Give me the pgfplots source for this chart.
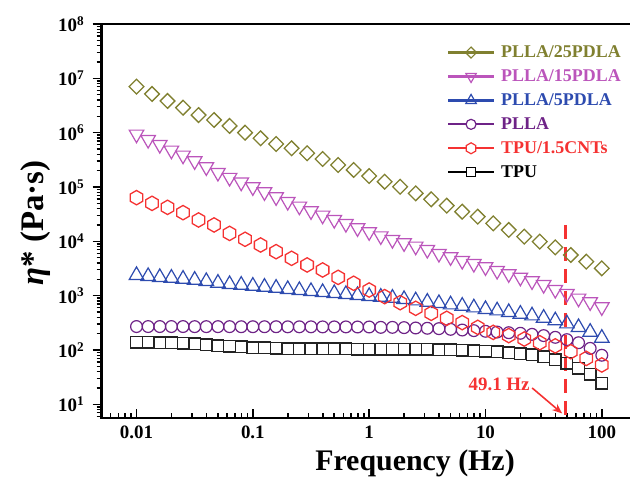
\documentclass[border=0pt]{standalone}
\usepackage{fontspec}
\setmainfont{Liberation Serif}
\usepackage{pgfplots}
\pgfplotsset{compat=1.18}
\usepackage{pgfplotstable}
\usetikzlibrary{arrows.meta}

\definecolor{olivec}{RGB}{128,128,48}
\definecolor{magc}{RGB}{187,85,187}
\definecolor{bluec}{RGB}{45,75,175}
\definecolor{purc}{RGB}{110,35,135}
\definecolor{redc}{RGB}{245,50,50}
\definecolor{blkc}{RGB}{35,35,35}

% hexagon outline with vertices at top and bottom
\def\hexpath{%
  \pgfpathmoveto{\pgfqpoint{0pt}{\pgfplotmarksize}}%
  \pgfpathlineto{\pgfqpoint{0.866\pgfplotmarksize}{0.5\pgfplotmarksize}}%
  \pgfpathlineto{\pgfqpoint{0.866\pgfplotmarksize}{-0.5\pgfplotmarksize}}%
  \pgfpathlineto{\pgfqpoint{0pt}{-\pgfplotmarksize}}%
  \pgfpathlineto{\pgfqpoint{-0.866\pgfplotmarksize}{-0.5\pgfplotmarksize}}%
  \pgfpathlineto{\pgfqpoint{-0.866\pgfplotmarksize}{0.5\pgfplotmarksize}}%
  \pgfpathclose}
\pgfdeclareplotmark{hexagon}{\hexpath\pgfusepathqstroke}
\pgfdeclareplotmark{hexagon*}{\hexpath\pgfusepathqfillstroke}

% 10 points per decade
\pgfplotstableread{
f        p15     p5    plla  tpu
0.01     9.32e5  2370  270   140
0.012589 7.43e5  2270  270   138
0.015849 6.01e5  2175  270   136
0.019953 4.73e5  2115  270   135
0.025119 3.83e5  2027  270   133
0.031623 3.01e5  1942  269   129
0.039811 2.33e5  1836  269   125
0.050119 1.84e5  1711  269   120
0.063096 1.49e5  1617  269   117
0.079433 1.22e5  1572  268   114
0.1      1.0e5   1507  268   110
0.12589  8.09e4  1444  268   109
0.15849  6.55e4  1384  268   107
0.19953  5.37e4  1308  267   106
0.25119  4.41e4  1254  267   106
0.31623  3.62e4  1202  267   106
0.39811  3.01e4  1152  266   106
0.50119  2.50e4  1104  266   106
0.63096  2.11e4  1058  266   106
0.79433  1.76e4  1014  265   104
1        1.49e4  972   265   104
1.2589   1.25e4  945   261   104
1.5849   1.07e4  906   261   104
1.9953   9.32e3  856   258   104
2.5119   8.09e3  809   254   104
3.1623   7.03e3  765   251   103
3.9811   5.93e3  722   247   101
5.0119   5.15e3  683   240   100
6.3096   4.41e3  645   233   98.6
7.9433   3.88e3  601   227   97.2
10       3.37e3  560   221   94.5
12.589   2.89e3  529   214   91.9
15.849   2.51e3  493   208   89.3
19.953   2.17e3  460   203   85.5
25.119   1.86e3  428   194   80.9
31.623   1.59e3  388   184   74.3
39.811   1.29e3  347   171   66.4
50.119   1.09e3  305   155   56.8
63.096   893     261   136   45.9
79.433   764     214   107   35.6
100      618     166   80    24.3
}\dataA

% 7.5 points per decade
\pgfplotstableread{
f        p25     cnt
0.01     7.03e6  6.36e4
0.013594 5.15e6  5.00e4
0.018478 3.83e6  4.22e4
0.025119 2.88e6  3.37e4
0.034145 2.11e6  2.47e4
0.046416 1.71e6  2.00e4
0.063096 1.33e6  1.40e4
0.085770 1.0e6   1.09e4
0.11659  7.87e5  8.56e3
0.15849  6.18e5  6.45e3
0.21544  5.15e5  4.87e3
0.29286  4.17e5  3.67e3
0.39811  3.28e5  2.97e3
0.54117  2.54e5  2.17e3
0.73564  2.06e5  1.69e3
1        1.59e5  1.27e3
1.3594   1.25e5  959
1.8478   1.01e5  743
2.5119   7.64e4  585
3.4145   5.93e4  473
4.6416   4.53e4  383
6.3096   3.51e4  319
8.5770   2.84e4  261
11.659   2.14e4  211
15.849   1.62e4  184
21.544   1.22e4  159
29.286   9.86e3  136
39.811   7.75e3  119
54.117   5.60e3  93
73.564   4.22e3  70
100      3.18e3  53
}\dataB

\begin{document}
\begin{tikzpicture}
\begin{axis}[
  at={(0,0)}, anchor=south west,
  width=538.3bp, height=394bp, scale only axis,
  xmode=log, ymode=log, log basis x=10, log basis y=10,
  xmin=0.00502, xmax=213, ymin=5.6, ymax=1e8,
  axis line style={line width=2.4bp},
  tick pos=left,
  xtick align=inside, ytick align=outside,
  major tick length=9bp, minor tick length=5bp,
  tick style={line width=1.5bp, black},
  /pgf/number format/assume math mode=true,
  xticklabel={\pgfmathparse{10^(round(\tick))}\pgfmathprintnumber[fixed,precision=2]{\pgfmathresult}},
  yticklabel={10\textsuperscript{\pgfmathparse{int(round(\tick))}\pgfmathresult}},
  xticklabel style={font=\bfseries\fontsize{19}{19}\selectfont, yshift=-4bp},
  yticklabel style={font=\bfseries\fontsize{19}{19}\selectfont, xshift=-5bp},
  xlabel={Frequency (Hz)},
  ylabel={\textit{η}* (Pa·s)},
  every axis x label/.style={at={(axis description cs:0.582,-0.116)}, anchor=center,
    font=\bfseries\fontsize{30}{30}\selectfont},
  every axis y label/.style={at={(axis description cs:-0.1226,0.495)}, anchor=center, rotate=90,
    font=\bfseries\fontsize{33}{33}\selectfont},
  legend style={draw=none, fill=none, at={(axis description cs:0.641,0.95)}, anchor=north west,
    inner sep=0pt, row sep=6.6bp, font=\bfseries\fontsize{18}{18}\selectfont,
    column sep=4bp},
  legend cell align=left,
  legend image code/.code={%
    \draw[#1, mark=none, line width=2.2bp] (0bp,0bp) -- (46bp,0bp);
    \draw[#1, line width=1.2bp] plot coordinates {(23bp,0bp)};
  },
]

\addlegendimage{olivec, mark=square, mark size=3.9bp, mark options={rotate=45, fill=white, solid}}
\addlegendentry{\textcolor{olivec}{PLLA/25PDLA}}
\addlegendimage{magc, mark=triangle, mark size=6bp, mark options={rotate=180, fill=white, solid}}
\addlegendentry{\textcolor{magc}{PLLA/15PDLA}}
\addlegendimage{bluec, mark=triangle, mark size=6bp, mark options={fill=white, solid}}
\addlegendentry{\textcolor{bluec}{PLLA/5PDLA}}
\addlegendimage{purc, mark=*, mark size=5bp, mark options={fill=white, solid}}
\addlegendentry{\textcolor{purc}{PLLA}}
\addlegendimage{redc, mark=hexagon*, mark size=5.5bp, mark options={fill=white, solid}}
\addlegendentry{\textcolor{redc}{TPU/1.5CNTs}}
\addlegendimage{black, mark=square*, mark size=4.3bp, mark options={fill=white, solid}}
\addlegendentry{TPU}

\addplot[forget plot, only marks, blkc, mark=square, mark size=5.8bp,
  mark options={line width=1.4bp}] table[x=f, y=tpu] {\dataA};
\addplot[forget plot, only marks, purc, mark=o, mark size=5.9bp,
  mark options={line width=1.2bp}] table[x=f, y=plla] {\dataA};
\addplot[forget plot, only marks, bluec, mark=triangle, mark size=8.4bp,
  mark options={line width=1.2bp}] table[x=f, y=p5] {\dataA};
\addplot[forget plot, only marks, magc, mark=triangle, mark size=8.4bp,
  mark options={rotate=180, line width=1.2bp}] table[x=f, y=p15] {\dataA};
\addplot[forget plot, only marks, redc, mark=hexagon, mark size=7.2bp,
  mark options={line width=1.3bp}] table[x=f, y=cnt] {\dataB};
\addplot[forget plot, only marks, olivec, mark=square, mark size=5.2bp,
  mark options={rotate=45, line width=1.3bp}] table[x=f, y=p25] {\dataB};

% critical frequency marker
\draw[redc, line width=3bp, dash pattern=on 14bp off 8bp] (axis cs:49.1,2.0e4) -- (axis cs:49.1,5.6);
\draw[redc, line width=1.6bp, -{Stealth[length=10bp, width=8bp]}] (axis cs:25.2,20) -- (axis cs:45.6,6.8);
\node[redc, font=\bfseries\fontsize{19}{19}\selectfont] at (axis cs:13.1,23.7) {49.1 Hz};
\end{axis}
\pgfresetboundingbox
\path[use as bounding box] (-101.7bp,-63bp) rectangle (528.3bp,418bp);
\end{tikzpicture}
\end{document}
